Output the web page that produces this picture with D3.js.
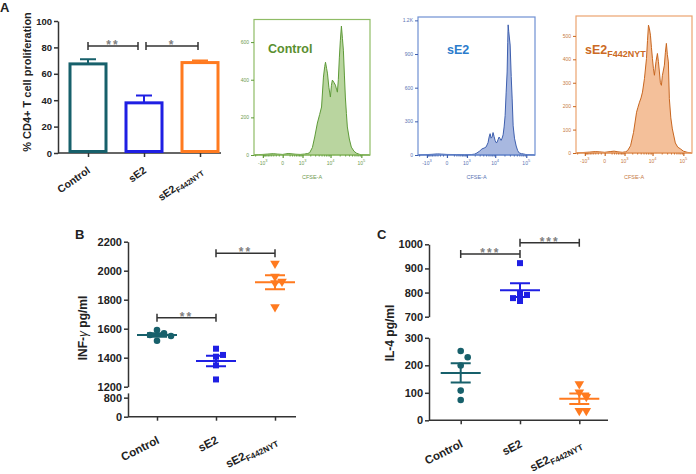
<!DOCTYPE html>
<html>
<head>
<meta charset="utf-8">
<script src="https://cdnjs.cloudflare.com/ajax/libs/d3/7.8.5/d3.min.js"></script>
<style>
  body { margin: 0; background: #fff; }
  svg { display: block; font-family: "Liberation Sans", Arial, sans-serif; }
</style>
</head>
<body>
<div id="chart"></div>
<script>
// groups
var groups = ["Control", "sE2", "sE2F442NYT"];
var groupColors = ["#17606b", "#1f1fe3", "#ff7a1f"];

// A - proliferation (mean, sem)
var prolifMean = [67.5, 38, 68.5];
var prolifSem = [3.5, 5.5, 1.5];
var prolifTicks = [0, 20, 40, 60, 80, 100];

// B - INF-gamma pg/ml
var infControl = [1556, 1591, 1517, 1550, 1568];
var infSE2 = [1407, 1419, 1462, 1347, 1250];
var infSE2F = [2050, 1925, 1915, 1960, 1750];
var infTicksUp = [1200, 1400, 1600, 1800, 2000, 2200];
var infTicksLow = [0, 800];

// C - IL-4 pg/ml
var il4Control = [252, 229, 199, 108, 74];
var il4SE2 = [922, 790, 765, 777, 795];
var il4SE2F = [132, 102, 86, 35, 35];
var il4TicksUp = [700, 800, 900, 1000];
var il4TicksLow = [0, 100, 200, 300];

// CFSE histograms [CFSE-A, count]
var cfseTicks = [-1000, 0, 1000, 10000, 100000];
var cfseTickLabels = [["-10", "3"], ["0", ""], ["10", "3"], ["10", "4"], ["10", "5"]];

var histControl = [[-2200,0],[-1500,2],[-1000,3],[-600,5],[-300,7],[-150,5],[0,3],[150,8],[300,6],[500,4],
  [800,3],[1200,5],[1600,8],[1900,12],[2400,40],[2900,96],[3600,170],[4300,215],[5000,255],[5800,414],
  [6400,470],[6800,493],[7400,460],[7900,435],[8800,360],[9900,308],[10700,370],[11500,398],[13000,385],
  [14500,371],[15700,350],[16800,334],[18000,400],[19500,520],[21000,610],[22700,685],[24500,620],
  [26300,557],[28500,420],[30500,308],[33000,220],[35400,149],[41000,85],[47600,42],[58000,20],
  [69000,10],[85000,4],[100000,1],[190000,0]];

var histSE2 = [[-2200,0],[-1200,3],[-600,6],[-300,10],[-150,8],[0,5],[300,4],[800,3],[1500,4],[2000,8],
  [2400,18],[3000,35],[3600,54],[4300,62],[5000,72],[5800,110],[6300,160],[6800,190],[7300,150],
  [7900,160],[8500,200],[9200,165],[9900,130],[10700,110],[11500,112],[12500,140],[13400,160],
  [14500,145],[15600,130],[16800,150],[18100,180],[19500,250],[21000,350],[22700,560],[24400,740],
  [25500,1000],[26300,1160],[27500,1100],[30500,980],[33000,700],[35400,500],[38100,260],[42000,150],
  [47600,80],[53000,40],[59500,18],[70000,12],[80000,10],[95000,5],[107000,3],[190000,0]];

var histSE2F = [[-2200,0],[-1200,2],[-600,4],[-300,6],[-150,5],[0,3],[150,6],[300,8],[500,5],[800,3],
  [1100,5],[1330,10],[1730,31],[2230,88],[2860,174],[3200,195],[3630,217],[4100,235],[4600,260],
  [5370,318],[6280,403],[6800,480],[7330,546],[7900,530],[8530,503],[9200,450],[9930,403],[10700,360],
  [11550,332],[13000,390],[14480,425],[15600,390],[16820,346],[18100,300],[19520,289],[21000,330],
  [24430,375],[26300,430],[28350,468],[30500,420],[32880,389],[35400,232],[39500,150],[44200,103],
  [55200,43],[66000,25],[80000,18],[100000,8],[133600,3],[190000,0]];

var svg = d3.select("#chart").append("svg")
  .attr("width", 696)
  .attr("height", 474);

var axisColor = "#333";
var plain = d3.format("d");

function axisStyle(g, size) {
  g.selectAll("text").style("font-size", size + "px").style("font-weight", "bold").attr("fill", "#222");
  g.selectAll("line").attr("stroke", axisColor).attr("stroke-width", 1.5);
  g.selectAll("path").attr("stroke", axisColor).attr("stroke-width", 1.5);
}

// group label, sE2F442NYT gets a subscript
function groupLabel(sel, d, size) {
  if (d === "sE2F442NYT") {
    sel.append("tspan").text("sE2");
    sel.append("tspan").text("F442NYT").style("font-size", (size * 0.72) + "px").attr("dy", 3);
  } else {
    sel.text(d);
  }
}

function bracket(g, x1, x2, y, label, size) {
  g.append("path")
    .attr("d", `M${x1},${y - 4}V${y + 4}M${x1},${y}H${x2}M${x2},${y - 4}V${y + 4}`)
    .attr("stroke", axisColor).attr("stroke-width", 1.5).attr("fill", "none");
  g.append("text")
    .attr("x", (x1 + x2) / 2).attr("y", y + 3)
    .attr("text-anchor", "middle")
    .style("font-size", size + "px").style("font-weight", "bold").style("letter-spacing", "2px")
    .attr("fill", "#808080")
    .text(label);
}

// ---------- A: bar chart ----------
var gA = svg.append("g");
var aY = d3.scaleLinear().domain([0, 100]).range([153, 21]);
var aX = d3.scalePoint().domain(groups).range([88, 200]);
var barW = 36;

gA.append("g").attr("transform", "translate(58,0)")
  .call(d3.axisLeft(aY).tickValues(prolifTicks).tickFormat(plain).tickSize(4).tickPadding(2).tickSizeOuter(0))
  .call(axisStyle, 9.5);
gA.append("g").attr("transform", "translate(0,153)")
  .call(d3.axisBottom(aX).tickSize(4).tickFormat(""))
  .call(g => g.select(".domain").remove())
  .call(axisStyle, 10);
gA.append("line").attr("x1", 58).attr("x2", 221).attr("y1", 153).attr("y2", 153)
  .attr("stroke", axisColor).attr("stroke-width", 1.5);

gA.selectAll("rect.bar").data(groups).join("rect")
  .attr("class", "bar")
  .attr("x", d => aX(d) - barW / 2)
  .attr("y", (d, i) => aY(prolifMean[i]))
  .attr("width", barW)
  .attr("height", (d, i) => aY(0) - aY(prolifMean[i]) - 1.5)
  .attr("fill", "#fff")
  .attr("stroke", (d, i) => groupColors[i])
  .attr("stroke-width", 3);

gA.selectAll("path.err").data(groups).join("path")
  .attr("class", "err")
  .attr("d", function(d, i) {
    var x = aX(d), y0 = aY(prolifMean[i]), y1 = aY(prolifMean[i] + prolifSem[i]);
    return `M${x},${y0}V${y1}M${x - 8},${y1}H${x + 8}`;
  })
  .attr("stroke", (d, i) => groupColors[i]).attr("stroke-width", 2).attr("fill", "none");

gA.selectAll("text.xl").data(groups).join("text")
  .attr("class", "xl")
  .attr("transform", d => `translate(${aX(d) + 3},${153 + 19}) rotate(-35)`)
  .attr("text-anchor", "end")
  .style("font-size", "10.5px").style("font-weight", "bold").attr("fill", "#222")
  .each(function(d) { groupLabel(d3.select(this), d, 10.5); });

gA.append("text")
  .attr("transform", "translate(31,82) rotate(-90)")
  .attr("text-anchor", "middle")
  .style("font-size", "11px").style("font-weight", "bold").attr("fill", "#222")
  .text("% CD4+ T cell proliferation");

bracket(gA, aX(groups[0]), aX(groups[1]) - 6, aY(81), "**", 12);
bracket(gA, aX(groups[1]) + 2, aX(groups[2]) - 2, aY(81), "*", 12);

svg.append("text").attr("x", 0).attr("y", 12)
  .style("font-size", "13px").style("font-weight", "bold").attr("fill", "#222").text("A");

// ---------- flow histograms ----------
var cfseMinor = [];
[100, 1000, 10000].forEach(function(p) {
  for (var m = 2; m <= 9; m++) cfseMinor.push(m * p);
});
for (var m = 1; m <= 9; m++) cfseMinor.push(-m * 100);
cfseMinor.push(-2000);

function flowPanel(cfg) {
  var g = svg.append("g");
  var x = d3.scaleSymlog().constant(300).domain([-2200, 190000]).range([cfg.left, cfg.right]);
  var y = d3.scaleLinear().domain([0, cfg.yMax]).range([cfg.bottom, cfg.top]);

  var area = d3.area()
    .x(d => x(d[0]))
    .y0(y(0))
    .y1(d => y(d[1]));

  g.append("path").datum(cfg.hist)
    .attr("d", area)
    .attr("fill", cfg.fill)
    .attr("stroke", cfg.stroke)
    .attr("stroke-width", 1);

  g.append("rect")
    .attr("x", cfg.left).attr("y", cfg.top)
    .attr("width", cfg.right - cfg.left).attr("height", cfg.bottom - cfg.top)
    .attr("fill", "none").attr("stroke", cfg.frame).attr("stroke-width", 1.2);

  var yAxis = g.append("g").attr("transform", `translate(${cfg.left},0)`)
    .call(d3.axisLeft(y).tickValues(cfg.yTicks).tickFormat((d, i) => cfg.yLabels[i]).tickSize(3).tickPadding(2).tickSizeOuter(0));
  yAxis.select(".domain").remove();
  yAxis.selectAll("line").attr("stroke", cfg.stroke).attr("stroke-width", 1);
  yAxis.selectAll("text").style("font-size", "5px").attr("fill", cfg.tickText);

  var xAxis = g.append("g").attr("transform", `translate(0,${cfg.bottom})`)
    .call(d3.axisBottom(x).tickValues(cfseTicks).tickFormat("").tickSize(3).tickSizeOuter(0));
  xAxis.select(".domain").remove();
  xAxis.selectAll("line").attr("stroke", cfg.stroke).attr("stroke-width", 1.2);
  g.append("g").attr("transform", `translate(0,${cfg.bottom})`)
    .call(d3.axisBottom(x).tickValues(cfseMinor).tickFormat("").tickSize(1.6).tickSizeOuter(0))
    .call(a => a.select(".domain").remove())
    .selectAll("line").attr("stroke", cfg.stroke).attr("stroke-width", 0.8);

  cfseTickLabels.forEach(function(lab, i) {
    var t = g.append("text")
      .attr("x", x(cfseTicks[i])).attr("y", cfg.bottom + 10)
      .attr("text-anchor", "middle")
      .style("font-size", "5px").attr("fill", cfg.tickText);
    t.append("tspan").text(lab[0]);
    if (lab[1]) t.append("tspan").text(lab[1]).attr("dy", -3).style("font-size", "4px");
  });

  g.append("text")
    .attr("x", (cfg.left + cfg.right) / 2).attr("y", 179)
    .attr("text-anchor", "middle")
    .style("font-size", "5.5px").attr("fill", cfg.tickText)
    .text("CFSE-A");

  var title = g.append("text")
    .attr("x", cfg.titleX).attr("y", cfg.titleY)
    .style("font-size", "12.5px").style("font-weight", "bold").attr("fill", cfg.titleColor);
  groupLabel(title, cfg.name, 12.5);
}

flowPanel({
  name: "Control", hist: histControl, left: 254, right: 370, top: 19.5, bottom: 155,
  yMax: 720, yTicks: [0, 200, 400, 600], yLabels: ["0", "200", "400", "600"],
  fill: "#b9d59f", stroke: "#5e9a38", frame: "#8fbc66", tickText: "#6f9b4f",
  titleColor: "#5a8f2f", titleX: 268, titleY: 53
});
flowPanel({
  name: "sE2", hist: histSE2, left: 418, right: 535, top: 17, bottom: 155,
  yMax: 1230, yTicks: [0, 300, 600, 900, 1200], yLabels: ["0", "300", "600", "900", "1.2K"],
  fill: "#a8b8e0", stroke: "#3e5fae", frame: "#6f90d2", tickText: "#5a74b4",
  titleColor: "#2c7ccc", titleX: 447, titleY: 54
});
flowPanel({
  name: "sE2F442NYT", hist: histSE2F, left: 576, right: 692, top: 16, bottom: 153,
  yMax: 585, yTicks: [0, 100, 200, 300, 400, 500], yLabels: ["0", "100", "200", "300", "400", "500"],
  fill: "#f4c09a", stroke: "#c8661f", frame: "#eba36f", tickText: "#c67a44",
  titleColor: "#cc6a24", titleX: 585, titleY: 54
});

// ---------- B and C: scatter with mean +/- SEM on broken axis ----------
var symbols = [d3.symbolCircle, d3.symbolSquare, d3.symbolTriangle];
var symbolSizes = [34, 36, 40];

function swarm(values, yPos, step, minDist) {
  var placed = [];
  var offs = new Array(values.length);
  var order = d3.range(values.length).sort((a, b) => values[b] - values[a]);
  order.forEach(function(i) {
    var py = yPos(values[i]);
    var cands = [0];
    for (var k = 1; k < 6; k++) cands.push(k * step, -k * step);
    var dx = cands.find(c => placed.every(p => Math.hypot(p.x - c, p.y - py) >= minDist));
    offs[i] = dx;
    placed.push({ x: dx, y: py });
  });
  return offs;
}

function scatterPanel(cfg) {
  var g = svg.append("g");
  var yUp = d3.scaleLinear().domain(cfg.upDomain).range(cfg.upRange);
  var yLow = d3.scaleLinear().domain(cfg.lowDomain).range(cfg.lowRange);
  var yPos = v => (v >= cfg.breakAt ? yUp(v) : yLow(v));
  var x = d3.scalePoint().domain(groups).range(cfg.xRange);
  var y0 = yLow(0);

  g.append("g").attr("transform", `translate(${cfg.axisX},0)`)
    .call(d3.axisLeft(yUp).tickValues(cfg.upTicks).tickFormat(plain).tickSize(4).tickPadding(2).tickSizeOuter(0))
    .call(axisStyle, 11);
  g.append("g").attr("transform", `translate(${cfg.axisX},0)`)
    .call(d3.axisLeft(yLow).tickValues(cfg.lowTicks).tickFormat(plain).tickSize(4).tickPadding(2).tickSizeOuter(0))
    .call(axisStyle, 11);

  g.append("g").attr("transform", `translate(0,${y0})`)
    .call(d3.axisBottom(x).tickSize(4).tickFormat(""))
    .call(a => a.select(".domain").remove())
    .call(axisStyle, 11);
  g.append("line").attr("x1", cfg.axisX).attr("x2", cfg.xEnd).attr("y1", y0).attr("y2", y0)
    .attr("stroke", axisColor).attr("stroke-width", 1.5);

  cfg.series.forEach(function(vals, gi) {
    var cx = x(groups[gi]);
    var col = groupColors[gi];
    var offs = swarm(vals, yPos, 7, 6.5);
    var sym = d3.symbol().type(symbols[gi]).size(symbolSizes[gi]);

    g.selectAll(null).data(vals).join("path")
      .attr("d", sym)
      .attr("transform", (d, i) => `translate(${cx + offs[i]},${yPos(d)})` + (gi === 2 ? " rotate(180)" : ""))
      .attr("fill", col);

    var mean = d3.mean(vals);
    var sem = d3.deviation(vals) / Math.sqrt(vals.length);
    var yM = yPos(mean), yHi = yPos(mean + sem), yLo = yPos(mean - sem);
    g.append("path")
      .attr("d", `M${cx - 20},${yM}H${cx + 20}M${cx},${yHi}V${yLo}M${cx - 10},${yHi}H${cx + 10}M${cx - 10},${yLo}H${cx + 10}`)
      .attr("stroke", col).attr("stroke-width", 2).attr("fill", "none");
  });

  g.selectAll("text.xl").data(groups).join("text")
    .attr("class", "xl")
    .attr("transform", d => `translate(${x(d) + 3},${y0 + 26}) rotate(-27)`)
    .attr("text-anchor", "end")
    .style("font-size", "11.5px").style("font-weight", "bold").attr("fill", "#222")
    .each(function(d) { groupLabel(d3.select(this), d, 11.5); });

  var title = g.append("text")
    .attr("transform", `translate(${cfg.titleX},${cfg.titleY}) rotate(-90)`)
    .attr("text-anchor", "middle")
    .style("font-size", "12px").style("font-weight", "bold").attr("fill", "#222");
  cfg.title(title);

  cfg.sig.forEach(function(s) {
    bracket(g, x(groups[s[0]]), x(groups[s[1]]), yPos(s[3]), s[2], 12);
  });

  svg.append("text").attr("x", cfg.letterX).attr("y", 239)
    .style("font-size", "13px").style("font-weight", "bold").attr("fill", "#222").text(cfg.letter);
}

scatterPanel({
  letter: "B", letterX: 75,
  series: [infControl, infSE2, infSE2F],
  axisX: 128, xEnd: 296, xRange: [157, 275],
  upDomain: [1200, 2200], upRange: [386.7, 241.7], upTicks: infTicksUp,
  lowDomain: [0, 1000], lowRange: [416.7, 392.9], lowTicks: infTicksLow,
  breakAt: 1100,
  titleX: 87, titleY: 328,
  title: function(t) {
    t.append("tspan").text("INF-");
    t.append("tspan").text("γ").style("font-weight", "normal").style("font-style", "italic");
    t.append("tspan").text(" pg/ml");
  },
  sig: [[0, 1, "**", 1676], [1, 2, "**", 2120]]
});

scatterPanel({
  letter: "C", letterX: 377,
  series: [il4Control, il4SE2, il4SE2F],
  axisX: 429, xEnd: 608, xRange: [460.7, 579.3],
  upDomain: [700, 1000], upRange: [316.7, 244.3], upTicks: il4TicksUp,
  lowDomain: [0, 300], lowRange: [420.3, 337.8], lowTicks: il4TicksLow,
  breakAt: 500,
  titleX: 394, titleY: 333,
  title: function(t) { t.text("IL-4 pg/ml"); },
  sig: [[0, 1, "***", 960], [1, 2, "***", 1006]]
});
</script>
</body>
</html>
